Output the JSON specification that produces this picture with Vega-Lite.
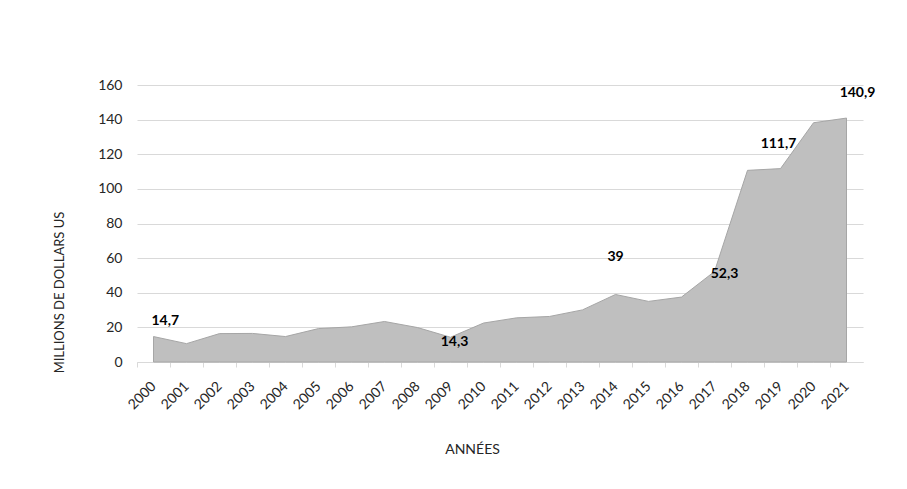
{
  "$schema": "https://vega.github.io/schema/vega-lite/v6.json",
  "autosize": {"type": "none"},
  "width": 726,
  "height": 277,
  "padding": {"left": 137, "top": 85, "right": 44, "bottom": 127},
  "background": "white",
  "config": {
    "font": "Lato",
    "view": {"stroke": null},
    "locale": {"number": {"decimal": ",", "thousands": " ", "grouping": [3], "currency": ["", " $"]}}
  },
  "data": {
    "values": [
      {"annee": "2000", "montant": 14.7},
      {"annee": "2001", "montant": 10.6},
      {"annee": "2002", "montant": 16.4},
      {"annee": "2003", "montant": 16.5},
      {"annee": "2004", "montant": 14.7},
      {"annee": "2005", "montant": 19.3},
      {"annee": "2006", "montant": 20.3},
      {"annee": "2007", "montant": 23.4},
      {"annee": "2008", "montant": 19.9},
      {"annee": "2009", "montant": 14.3},
      {"annee": "2010", "montant": 22.5},
      {"annee": "2011", "montant": 25.5},
      {"annee": "2012", "montant": 26.3},
      {"annee": "2013", "montant": 30.1},
      {"annee": "2014", "montant": 39},
      {"annee": "2015", "montant": 35},
      {"annee": "2016", "montant": 37.5},
      {"annee": "2017", "montant": 52.3},
      {"annee": "2018", "montant": 110.7},
      {"annee": "2019", "montant": 111.7},
      {"annee": "2020", "montant": 138.2},
      {"annee": "2021", "montant": 140.9}
    ]
  },
  "encoding": {
    "x": {
      "field": "annee",
      "type": "ordinal",
      "scale": {"type": "point", "padding": 0.5},
      "axis": {
        "title": "ANNÉES",
        "titleFont": "Lato",
        "titleFontSize": 14,
        "titleFontWeight": "normal",
        "titleColor": "#262626",
        "titleX": 335,
        "titleY": 87,
        "titleBaseline": "middle",
        "titleAnchor": null,
        "labelAngle": -45,
        "labelAlign": "right",
        "labelBaseline": "middle",
        "labelPadding": 17,
        "labelFontSize": 14,
        "labelColor": "#262626",
        "domainColor": "#d9d9d9",
        "tickColor": "#d9d9d9",
        "tickSize": 5,
        "tickOffset": -16.5,
        "labelOffset": 16.5,
        "grid": false
      }
    },
    "y": {
      "field": "montant",
      "type": "quantitative",
      "scale": {"domain": [0, 160], "nice": false},
      "axis": {
        "title": "MILLIONS DE DOLLARS US",
        "titleFont": "Lato",
        "titleFontSize": 13,
        "titleFontWeight": "normal",
        "titleColor": "#262626",
        "titleAngle": -90,
        "titleX": -78,
        "titleY": 207,
        "titleAlign": "center",
        "titleBaseline": "middle",
        "titleAnchor": null,
        "values": [0, 20, 40, 60, 80, 100, 120, 140, 160],
        "labelFontSize": 14,
        "labelColor": "#262626",
        "labelPadding": 15,
        "domain": false,
        "ticks": false,
        "grid": true,
        "gridColor": "#d9d9d9",
        "gridWidth": 1
      }
    }
  },
  "layer": [
    {
      "mark": {"type": "area", "color": "#bfbfbf", "stroke": "#a6a6a6", "strokeWidth": 1, "interpolate": "linear"}
    },
    {
      "transform": [{"filter": "datum.annee == '2000'"}],
      "mark": {"type": "text", "font": "Lato", "fontSize": 14, "fontWeight": "bold", "color": "black", "align": "left", "dx": -2, "dy": -16},
      "encoding": {"text": {"field": "montant", "type": "quantitative", "format": "~f"}}
    },
    {
      "transform": [{"filter": "datum.annee == '2009'"}],
      "mark": {"type": "text", "font": "Lato", "fontSize": 14, "fontWeight": "bold", "color": "black", "dx": 4, "dy": 5},
      "encoding": {"text": {"field": "montant", "type": "quantitative", "format": "~f"}}
    },
    {
      "transform": [{"filter": "datum.annee == '2014'"}],
      "mark": {"type": "text", "font": "Lato", "fontSize": 14, "fontWeight": "bold", "color": "black", "dy": -37},
      "encoding": {"text": {"field": "montant", "type": "quantitative", "format": "~f"}}
    },
    {
      "transform": [{"filter": "datum.annee == '2017'"}],
      "mark": {"type": "text", "font": "Lato", "fontSize": 14, "fontWeight": "bold", "color": "black", "dx": 10, "dy": 3},
      "encoding": {"text": {"field": "montant", "type": "quantitative", "format": "~f"}}
    },
    {
      "transform": [{"filter": "datum.annee == '2019'"}],
      "mark": {"type": "text", "font": "Lato", "fontSize": 14, "fontWeight": "bold", "color": "black", "dx": -2, "dy": -25},
      "encoding": {"text": {"field": "montant", "type": "quantitative", "format": "~f"}}
    },
    {
      "transform": [{"filter": "datum.annee == '2021'"}],
      "mark": {"type": "text", "font": "Lato", "fontSize": 14, "fontWeight": "bold", "color": "black", "dx": 11, "dy": -25},
      "encoding": {"text": {"field": "montant", "type": "quantitative", "format": "~f"}}
    }
  ]
}
